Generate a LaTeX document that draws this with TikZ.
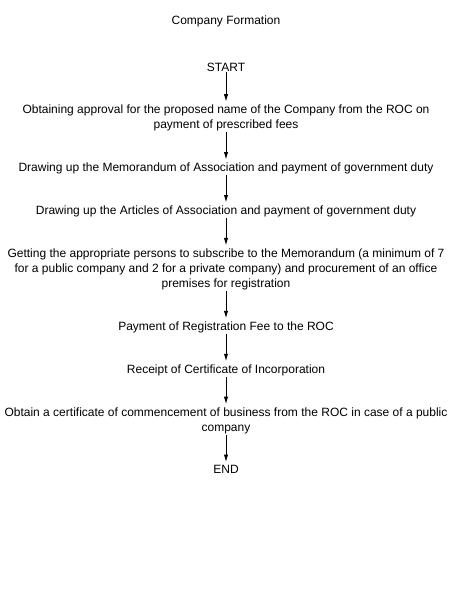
\documentclass[tikz,border=0pt]{standalone}
\usepackage{fontspec}
\setmainfont{Liberation Sans}
\usepackage{tikz}
\usetikzlibrary{positioning,arrows.meta}

\begin{document}
\begin{tikzpicture}[
    stage/.style={align=center,inner sep=0pt,font=\fontsize{9}{11.25}\selectfont},
    flow/.style={-{Latex[length=5.5pt,width=3.2pt]},line width=0.6pt,shorten >=2.5pt,shorten <=0.5pt},
    node distance=23.4pt
  ]
    \useasboundingbox (0,0) rectangle (337.5pt,-450pt);
    \node[stage,anchor=base] (title) at (169.5pt,-18pt) {Company Formation};
    \node[stage,below=26.8pt of title] (start) {START};
    \node[stage,below=25pt of start] (name) {Obtaining approval for the proposed name of the Company from the ROC on\\payment of prescribed fees};
    \node[stage,below=of name] (moa) {Drawing up the Memorandum of Association and payment of government duty};
    \node[stage,below=of moa] (aoa) {Drawing up the Articles of Association and payment of government duty};
    \node[stage,below=of aoa] (subs) {Getting the appropriate persons to subscribe to the Memorandum (a minimum of 7\\for a public company and 2 for a private company) and procurement of an office\\premises for registration};
    \node[stage,below=of subs] (fee) {Payment of Registration Fee to the ROC};
    \node[stage,below=of fee] (inc) {Receipt of Certificate of Incorporation};
    \node[stage,below=of inc] (comm) {Obtain a certificate of commencement of business from the ROC in case of a public\\company};
    \node[stage,below=of comm] (end) {END};
    \draw[flow] (start) -- (name);
    \draw[flow] (name) -- (moa);
    \draw[flow] (moa) -- (aoa);
    \draw[flow] (aoa) -- (subs);
    \draw[flow] (subs) -- (fee);
    \draw[flow] (fee) -- (inc);
    \draw[flow] (inc) -- (comm);
    \draw[flow] (comm) -- (end);
  \end{tikzpicture}
\end{document}
